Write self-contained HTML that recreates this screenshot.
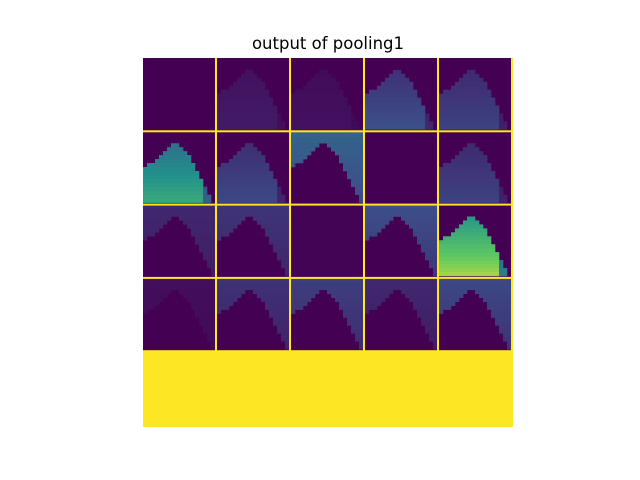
<!DOCTYPE html>
<html><head><meta charset="utf-8"><style>
html,body{margin:0;padding:0;background:#fff;width:640px;height:480px;overflow:hidden}
</style></head><body>
<svg id="chart" width="640" height="480" xmlns="http://www.w3.org/2000/svg">
<rect width="640" height="480" fill="#fff"/>
<text x="328" y="49" text-anchor="middle" font-family="DejaVu Sans, Liberation Sans, sans-serif" font-size="16.5" fill="#000">output of pooling1</text>
<g id="tiles"></g>
<g id="lines"></g>
</svg>
<script>
// per-tile data: shape type ('m' object, 's' background-above-object, 'n' empty) and intensity
const tileTypes = ['n','m','m','m','m', 'm','m','s','n','m', 's','s','n','s','m', 's','s','s','s','s'];
const tileIntensity = [0.01,0.08,0.05,0.24,0.2, 0.6,0.22,0.32,0.015,0.2, 0.12,0.16,0.02,0.24,0.85, 0.04,0.15,0.19,0.12,0.22];
// object silhouette: top row (out of 18) for each column
const profile = [9,8,8,7,6,5,4,3,3,4,5,6,8,10,12,14,16,18];

const stops=[[68,1,84],[59,82,139],[33,145,140],[94,201,98],[253,231,37]];
function viridis(v){v=Math.max(0,Math.min(1,v));const s=v*4,i=Math.min(3,Math.floor(s)),f=s-i;
 const a=stops[i],b=stops[i+1];return `rgb(${a.map((x,k)=>Math.round(x+(b[k]-x)*f)).join(',')})`;}
const NS='http://www.w3.org/2000/svg';
const X0=143,Y0=58,PX=74,PY=73.3,N=18;
const g=document.getElementById('tiles');
function rect(p,x,y,w,h,fill){const r=document.createElementNS(NS,'rect');r.setAttribute('x',x);r.setAttribute('y',y);r.setAttribute('width',w);r.setAttribute('height',h);r.setAttribute('fill',fill);p.appendChild(r);return r;}
const bg=rect(g,X0,Y0,370,369,viridis(0));


tileTypes.forEach((t,i)=>{
 const c=i%5,r=Math.floor(i/5),I=tileIntensity[i];
 const tg=document.createElementNS(NS,'g');
 
 
 g.appendChild(tg);
 const cs=(PX-2)/N, rs=(PY-2)/N;
 for(let yy=0;yy<N;yy++)for(let xx=0;xx<N;xx++){
  const inside=yy>=profile[xx];let v=0;
  if(t==='m'&&inside){
   const edge=(xx>=15)?0.5:1;
   v=I*(0.55+0.45*yy/(N-1))*edge;
  }
  else if(t==='s'&&!inside)v=I*(1-0.3*yy/(N-1));
  else if(t==='n')v=I*0.5;
  if(v<0.01)continue;
  rect(tg,X0+c*PX+xx*cs,Y0+r*PY+yy*rs,cs+0.3,rs+0.3,viridis(v));
 }
});
const bottom=rect(g,X0,Y0+4*PY-1,370,369-4*PY+1,viridis(1));


const L=document.getElementById('lines');
for(let k=1;k<=5;k++){const r=rect(L,X0+k*PX-2,Y0,2,4*PY,viridis(1));

}
for(let k=1;k<=3;k++){const r=rect(L,X0,Y0+k*PY-1,370,2,viridis(1));

}
</script>
</body></html>
